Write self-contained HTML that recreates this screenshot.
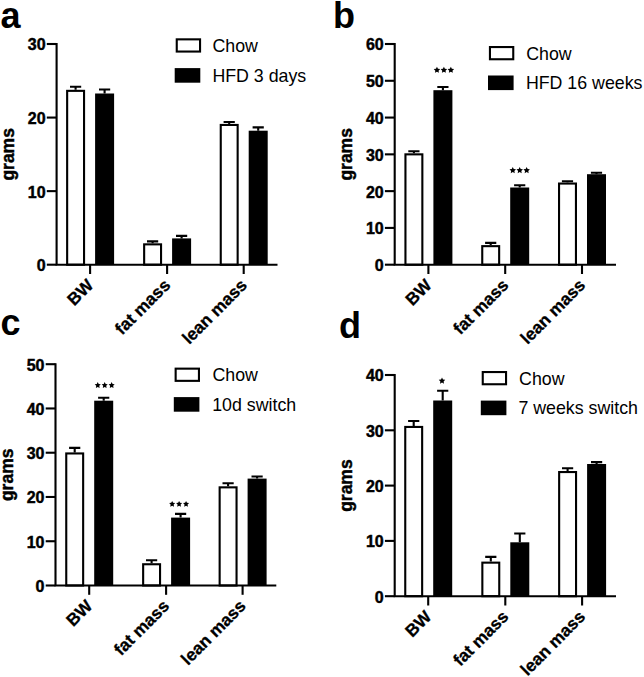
<!DOCTYPE html>
<html><head><meta charset="utf-8"><style>
html,body{margin:0;padding:0;background:#fff;}
body{width:644px;height:677px;overflow:hidden;}
svg{display:block;}
text{font-family:"Liberation Sans",sans-serif;fill:#000;}
.L{font-size:36px;font-weight:bold;}
.B{stroke:#000;stroke-width:0.45px;}
.B2{stroke:#000;stroke-width:0.3px;}
.T{font-size:16px;font-weight:bold;text-anchor:end;}
.X{font-size:17.2px;font-weight:bold;text-anchor:end;}
.G{font-size:17.5px;font-weight:bold;text-anchor:middle;}
.R{font-size:17.8px;font-weight:normal;}
.s{stroke:#000;stroke-width:2.1;fill:none;}
.w{stroke:#000;stroke-width:2.1;fill:#fff;}
</style></head><body>
<svg width="644" height="677" viewBox="0 0 644 677">
<rect width="644" height="677" fill="#fff"/>
<g><text x="0.6" y="28.0" class="L">a</text>
<path d="M75.60 86.80V89.80M70.00 86.80H81.20" class="s"/>
<rect x="67.15" y="90.85" width="16.90" height="173.85" class="w"/>
<path d="M104.60 89.50V93.50M99.00 89.50H110.20" class="s"/>
<rect x="95.10" y="93.50" width="19.00" height="171.20"/>
<path d="M152.60 241.40V243.30M147.00 241.40H158.20" class="s"/>
<rect x="144.15" y="244.35" width="16.90" height="20.35" class="w"/>
<path d="M181.60 235.90V238.40M176.00 235.90H187.20" class="s"/>
<rect x="172.10" y="238.40" width="19.00" height="26.30"/>
<path d="M229.20 122.00V123.90M223.60 122.00H234.80" class="s"/>
<rect x="220.75" y="124.95" width="16.90" height="139.75" class="w"/>
<path d="M258.20 127.40V130.70M252.60 127.40H263.80" class="s"/>
<rect x="248.70" y="130.70" width="19.00" height="134.00"/>
<path d="M56.60 42.95V264.70M55.55 264.70H277.50" class="s"/>
<path d="M46.80 264.70H56.60" class="s"/>
<text x="45.60" y="271.10" class="T B">0</text>
<path d="M46.80 191.13H56.60" class="s"/>
<text x="45.60" y="197.53" class="T B">10</text>
<path d="M46.80 117.57H56.60" class="s"/>
<text x="45.60" y="123.97" class="T B">20</text>
<path d="M46.80 44.00H56.60" class="s"/>
<text x="45.60" y="50.40" class="T B">30</text>
<path d="M90.10 264.70V274.00" class="s"/>
<text x="94.40" y="286.30" class="X B2" transform="rotate(-45 94.40 286.30)">BW</text>
<path d="M167.10 264.70V274.00" class="s"/>
<text x="171.40" y="286.30" class="X B2" transform="rotate(-45 171.40 286.30)">fat mass</text>
<path d="M243.70 264.70V274.00" class="s"/>
<text x="248.00" y="286.30" class="X B2" transform="rotate(-45 248.00 286.30)">lean mass</text>
<text x="13.90" y="154.35" class="G B" transform="rotate(-90 13.90 154.35)">grams</text>
<rect x="176.75" y="39.35" width="23.30" height="12.20" class="w"/>
<rect x="174.70" y="68.10" width="25.6" height="14.6"/>
<text x="212.50" y="52.30" class="R">Chow</text>
<text x="212.40" y="82.30" class="R">HFD 3 days</text></g>
<g><text x="333.0" y="28.0" class="L">b</text>
<path d="M413.90 151.20V153.30M408.30 151.20H419.50" class="s"/>
<rect x="405.45" y="154.35" width="16.90" height="110.35" class="w"/>
<path d="M442.90 87.00V90.20M437.30 87.00H448.50" class="s"/>
<rect x="433.40" y="90.20" width="19.00" height="174.50"/>
<path d="M490.70 242.90V245.10M485.10 242.90H496.30" class="s"/>
<rect x="482.25" y="246.15" width="16.90" height="18.55" class="w"/>
<path d="M519.70 185.20V187.50M514.10 185.20H525.30" class="s"/>
<rect x="510.20" y="187.50" width="19.00" height="77.20"/>
<path d="M567.50 181.30V182.50M561.90 181.30H573.10" class="s"/>
<rect x="559.05" y="183.55" width="16.90" height="81.15" class="w"/>
<path d="M596.50 172.80V174.20M590.90 172.80H602.10" class="s"/>
<rect x="587.00" y="174.20" width="19.00" height="90.50"/>
<path d="M394.70 42.95V264.70M393.65 264.70H616.00" class="s"/>
<path d="M384.90 264.70H394.70" class="s"/>
<text x="383.70" y="271.10" class="T B">0</text>
<path d="M384.90 227.92H394.70" class="s"/>
<text x="383.70" y="234.32" class="T B">10</text>
<path d="M384.90 191.13H394.70" class="s"/>
<text x="383.70" y="197.53" class="T B">20</text>
<path d="M384.90 154.35H394.70" class="s"/>
<text x="383.70" y="160.75" class="T B">30</text>
<path d="M384.90 117.57H394.70" class="s"/>
<text x="383.70" y="123.97" class="T B">40</text>
<path d="M384.90 80.78H394.70" class="s"/>
<text x="383.70" y="87.18" class="T B">50</text>
<path d="M384.90 44.00H394.70" class="s"/>
<text x="383.70" y="50.40" class="T B">60</text>
<path d="M428.40 264.70V274.00" class="s"/>
<text x="432.70" y="286.30" class="X B2" transform="rotate(-45 432.70 286.30)">BW</text>
<path d="M505.20 264.70V274.00" class="s"/>
<text x="509.50" y="286.30" class="X B2" transform="rotate(-45 509.50 286.30)">fat mass</text>
<path d="M582.00 264.70V274.00" class="s"/>
<text x="586.30" y="286.30" class="X B2" transform="rotate(-45 586.30 286.30)">lean mass</text>
<text x="352.00" y="154.35" class="G B" transform="rotate(-90 352.00 154.35)">grams</text>
<polygon points="436.95,66.70 437.95,68.72 440.18,69.05 438.57,70.63 438.95,72.85 436.95,71.80 434.95,72.85 435.33,70.63 433.72,69.05 435.95,68.72"/>
<polygon points="443.90,66.70 444.90,68.72 447.13,69.05 445.52,70.63 445.90,72.85 443.90,71.80 441.90,72.85 442.28,70.63 440.67,69.05 442.90,68.72"/>
<polygon points="450.85,66.70 451.85,68.72 454.08,69.05 452.47,70.63 452.85,72.85 450.85,71.80 448.85,72.85 449.23,70.63 447.62,69.05 449.85,68.72"/>
<polygon points="512.75,167.00 513.75,169.02 515.98,169.35 514.37,170.93 514.75,173.15 512.75,172.10 510.75,173.15 511.13,170.93 509.52,169.35 511.75,169.02"/>
<polygon points="519.70,167.00 520.70,169.02 522.93,169.35 521.32,170.93 521.70,173.15 519.70,172.10 517.70,173.15 518.08,170.93 516.47,169.35 518.70,169.02"/>
<polygon points="526.65,167.00 527.65,169.02 529.88,169.35 528.27,170.93 528.65,173.15 526.65,172.10 524.65,173.15 525.03,170.93 523.42,169.35 525.65,169.02"/>
<rect x="489.95" y="47.05" width="23.30" height="12.20" class="w"/>
<rect x="488.00" y="75.50" width="25.6" height="14.6"/>
<text x="526.20" y="59.50" class="R">Chow</text>
<text x="525.90" y="88.80" class="R">HFD 16 weeks</text></g>
<g><text x="0.6" y="334.7" class="L">c</text>
<path d="M74.70 447.90V452.40M69.10 447.90H80.30" class="s"/>
<rect x="66.25" y="453.45" width="16.90" height="132.05" class="w"/>
<path d="M103.70 397.70V400.70M98.10 397.70H109.30" class="s"/>
<rect x="94.20" y="400.70" width="19.00" height="184.80"/>
<path d="M151.60 560.20V563.20M146.00 560.20H157.20" class="s"/>
<rect x="143.15" y="564.25" width="16.90" height="21.25" class="w"/>
<path d="M180.60 513.90V517.60M175.00 513.90H186.20" class="s"/>
<rect x="171.10" y="517.60" width="19.00" height="67.90"/>
<path d="M228.10 483.20V486.30M222.50 483.20H233.70" class="s"/>
<rect x="219.65" y="487.35" width="16.90" height="98.15" class="w"/>
<path d="M257.10 476.50V478.60M251.50 476.50H262.70" class="s"/>
<rect x="247.60" y="478.60" width="19.00" height="106.90"/>
<path d="M55.50 363.15V585.50M54.45 585.50H276.30" class="s"/>
<path d="M45.70 585.50H55.50" class="s"/>
<text x="44.50" y="591.90" class="T B">0</text>
<path d="M45.70 541.24H55.50" class="s"/>
<text x="44.50" y="547.64" class="T B">10</text>
<path d="M45.70 496.98H55.50" class="s"/>
<text x="44.50" y="503.38" class="T B">20</text>
<path d="M45.70 452.72H55.50" class="s"/>
<text x="44.50" y="459.12" class="T B">30</text>
<path d="M45.70 408.46H55.50" class="s"/>
<text x="44.50" y="414.86" class="T B">40</text>
<path d="M45.70 364.20H55.50" class="s"/>
<text x="44.50" y="370.60" class="T B">50</text>
<path d="M89.20 585.50V594.80" class="s"/>
<text x="93.50" y="607.10" class="X B2" transform="rotate(-45 93.50 607.10)">BW</text>
<path d="M166.10 585.50V594.80" class="s"/>
<text x="170.40" y="607.10" class="X B2" transform="rotate(-45 170.40 607.10)">fat mass</text>
<path d="M242.60 585.50V594.80" class="s"/>
<text x="246.90" y="607.10" class="X B2" transform="rotate(-45 246.90 607.10)">lean mass</text>
<text x="12.80" y="474.85" class="G B" transform="rotate(-90 12.80 474.85)">grams</text>
<polygon points="97.75,382.10 98.69,384.01 100.79,384.31 99.27,385.79 99.63,387.89 97.75,386.90 95.87,387.89 96.23,385.79 94.71,384.31 96.81,384.01"/>
<polygon points="104.70,382.10 105.64,384.01 107.74,384.31 106.22,385.79 106.58,387.89 104.70,386.90 102.82,387.89 103.18,385.79 101.66,384.31 103.76,384.01"/>
<polygon points="111.65,382.10 112.59,384.01 114.69,384.31 113.17,385.79 113.53,387.89 111.65,386.90 109.77,387.89 110.13,385.79 108.61,384.31 110.71,384.01"/>
<polygon points="172.15,500.90 173.09,502.81 175.19,503.11 173.67,504.59 174.03,506.69 172.15,505.70 170.27,506.69 170.63,504.59 169.11,503.11 171.21,502.81"/>
<polygon points="179.10,500.90 180.04,502.81 182.14,503.11 180.62,504.59 180.98,506.69 179.10,505.70 177.22,506.69 177.58,504.59 176.06,503.11 178.16,502.81"/>
<polygon points="186.05,500.90 186.99,502.81 189.09,503.11 187.57,504.59 187.93,506.69 186.05,505.70 184.17,506.69 184.53,504.59 183.01,503.11 185.11,502.81"/>
<rect x="175.65" y="368.65" width="23.30" height="12.20" class="w"/>
<rect x="173.80" y="397.10" width="25.6" height="14.6"/>
<text x="212.50" y="381.20" class="R">Chow</text>
<text x="212.20" y="410.90" class="R">10d switch</text></g>
<g><text x="339.0" y="337.6" class="L">d</text>
<path d="M413.70 421.00V425.90M408.10 421.00H419.30" class="s"/>
<rect x="405.25" y="426.95" width="16.90" height="169.25" class="w"/>
<path d="M442.70 390.70V400.50M437.10 390.70H448.30" class="s"/>
<rect x="433.20" y="400.50" width="19.00" height="195.70"/>
<path d="M490.80 556.90V561.60M485.20 556.90H496.40" class="s"/>
<rect x="482.35" y="562.65" width="16.90" height="33.55" class="w"/>
<path d="M519.80 533.50V542.30M514.20 533.50H525.40" class="s"/>
<rect x="510.30" y="542.30" width="19.00" height="53.90"/>
<path d="M567.60 468.20V471.00M562.00 468.20H573.20" class="s"/>
<rect x="559.15" y="472.05" width="16.90" height="124.15" class="w"/>
<path d="M596.60 462.10V464.00M591.00 462.10H602.20" class="s"/>
<rect x="587.10" y="464.00" width="19.00" height="132.20"/>
<path d="M394.70 373.95V596.20M393.65 596.20H616.00" class="s"/>
<path d="M384.90 596.20H394.70" class="s"/>
<text x="383.70" y="602.60" class="T B">0</text>
<path d="M384.90 540.90H394.70" class="s"/>
<text x="383.70" y="547.30" class="T B">10</text>
<path d="M384.90 485.60H394.70" class="s"/>
<text x="383.70" y="492.00" class="T B">20</text>
<path d="M384.90 430.30H394.70" class="s"/>
<text x="383.70" y="436.70" class="T B">30</text>
<path d="M384.90 375.00H394.70" class="s"/>
<text x="383.70" y="381.40" class="T B">40</text>
<path d="M428.20 596.20V605.50" class="s"/>
<text x="432.50" y="617.80" class="X B2" transform="rotate(-45 432.50 617.80)">BW</text>
<path d="M505.30 596.20V605.50" class="s"/>
<text x="509.60" y="617.80" class="X B2" transform="rotate(-45 509.60 617.80)">fat mass</text>
<path d="M582.10 596.20V605.50" class="s"/>
<text x="586.40" y="617.80" class="X B2" transform="rotate(-45 586.40 617.80)">lean mass</text>
<text x="352.00" y="485.60" class="G B" transform="rotate(-90 352.00 485.60)">grams</text>
<polygon points="442.00,377.50 443.00,379.52 445.23,379.85 443.62,381.43 444.00,383.65 442.00,382.60 440.00,383.65 440.38,381.43 438.77,379.85 441.00,379.52"/>
<rect x="482.75" y="372.05" width="23.30" height="12.20" class="w"/>
<rect x="480.80" y="400.60" width="25.6" height="14.6"/>
<text x="519.10" y="385.00" class="R">Chow</text>
<text x="518.40" y="414.20" class="R">7 weeks switch</text></g>
</svg>
</body></html>
